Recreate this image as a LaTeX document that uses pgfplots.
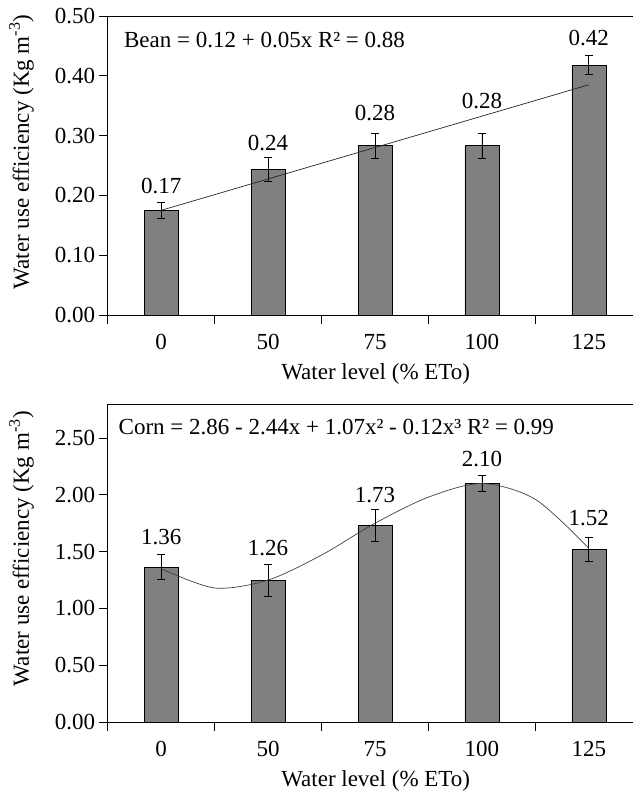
\documentclass[border=0pt]{standalone}
\usepackage{pgfplots}
\pgfplotsset{compat=1.18}
\usepackage{fontspec}
\setmainfont{Liberation Serif}
\newcommand\fs{\fontsize{23}{27}\selectfont}
\pgfplotsset{
  wue/.style={
    scale only axis, width=556pt,
    font=\fs,
    xmin=-0.5, xmax=4.7, ymin=0,
    axis line style={black, line width=0.8pt},
    tick align=outside, xtick pos=bottom, ytick pos=left,
    every tick/.style={black, line width=0.8pt},
    major tick length=9pt,
    xtick={-0.5,0.5,1.5,2.5,3.5}, xticklabels={},
    extra x ticks={0,1,2,3,4},
    extra x tick labels={0,50,75,100,125},
    extra x tick style={major tick length=0pt, xticklabel style={yshift=-16pt}},
    /pgf/number format/assume math mode=true,
    yticklabel style={/pgf/number format/.cd, fixed, fixed zerofill, precision=2},
    xlabel={Water level (\% ETo)},
    ylabel={Water use efficiency (Kg m\textsuperscript{-3})},
    every axis y label/.style={at={(axis description cs:-0.155,0.545)}, rotate=90, anchor=center},
    every axis x label/.style={at={(axis description cs:0.482,0)}, anchor=north, yshift=-45pt},
    error bars/error bar style={black, line width=0.8pt},
    error bars/error mark options={black, line width=0.8pt, mark size=4pt, rotate=90},
  },
  bars/.style={ybar, bar width=34pt, fill=black!50, draw=black, line width=0.6pt,
    error bars/.cd, y dir=both, y explicit},
}
\begin{document}
\begin{tikzpicture}
\useasboundingbox (0,0) rectangle (632pt,794pt);
\begin{axis}[wue, at={(107.7pt,479pt)}, anchor=south west, height=299pt,
  ymax=0.5, ytick={0,0.1,0.2,0.3,0.4,0.5}]
\addplot[bars] coordinates {
  (0,0.175) +- (0,0.014)
  (1,0.243) +- (0,0.020)
  (2,0.283) +- (0,0.021)
  (3,0.283) +- (0,0.021)
  (4,0.418) +- (0,0.016)
};
\addplot[black!85, line width=0.7pt] coordinates {(0,0.175) (4,0.385)};
\node[font=\fs] at (axis cs:0,0.215) {0.17};
\node[font=\fs] at (axis cs:1,0.288) {0.24};
\node[font=\fs] at (axis cs:2,0.337) {0.28};
\node[font=\fs] at (axis cs:3,0.357) {0.28};
\node[font=\fs] at (axis cs:4,0.463) {0.42};
\node[font=\fs, anchor=west] at (axis cs:-0.38,0.460) {Bean = 0.12 + 0.05x R² = 0.88};
\end{axis}
\begin{axis}[wue, at={(107.7pt,72pt)}, anchor=south west, height=318pt,
  ymax=2.8, ytick={0,0.5,1,1.5,2,2.5}]
\addplot[bars] coordinates {
  (0,1.362) +- (0,0.110)
  (1,1.250) +- (0,0.140)
  (2,1.729) +- (0,0.143)
  (3,2.103) +- (0,0.070)
  (4,1.521) +- (0,0.107)
};
\addplot[black!75, line width=0.7pt, smooth] coordinates {
  (0,1.35) (0.5,1.18) (1,1.25) (1.5,1.47) (2,1.75) (2.5,1.98) (3,2.10) (3.5,1.96) (4,1.53)};
\node[font=\fs] at (axis cs:0,1.632) {1.36};
\node[font=\fs] at (axis cs:1,1.53) {1.26};
\node[font=\fs] at (axis cs:2,2.00) {1.73};
\node[font=\fs] at (axis cs:3,2.315) {2.10};
\node[font=\fs] at (axis cs:4,1.794) {1.52};
\node[font=\fs, anchor=west] at (axis cs:-0.43,2.60) {Corn = 2.86 - 2.44x + 1.07x² - 0.12x³ R² = 0.99};
\end{axis}
\end{tikzpicture}
\end{document}
